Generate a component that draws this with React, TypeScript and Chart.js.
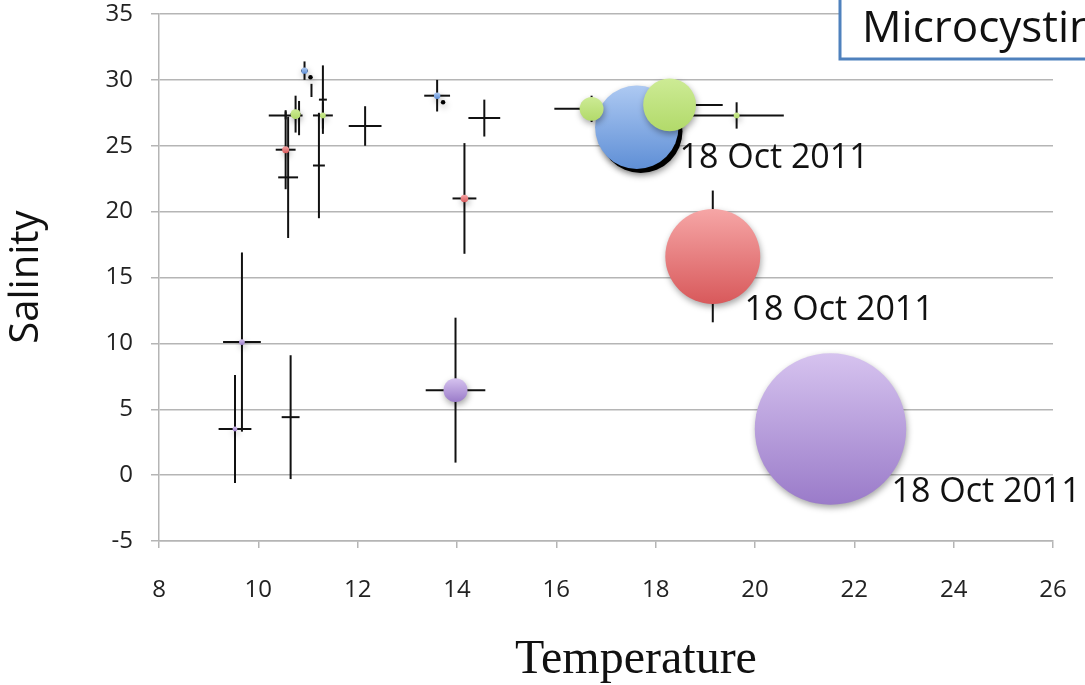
import { useEffect, useRef } from 'react';
import { Chart, registerables } from 'chart.js';

Chart.register(...registerables);

// ---- data ----
const temperature = [10.55, 10.55, 10.6, 10.75, 10.82, 10.93, 11.05, 11.07, 11.3, 11.3, 11.22, 12.15, 13.6, 13.72, 14.55, 14.15, 9.67, 9.53, 10.65, 13.97, 16.71, 17.7, 17.62, 18.28, 19.63, 19.15, 21.52];
const salinity = [27.3, 24.7, 22.6, 27.4, 27.1, 30.7, 30.2, 29.2, 28.5, 27.3, 23.5, 26.5, 28.8, 28.3, 27.1, 21.0, 10.1, 3.5, 4.4, 6.45, 27.8, 26.1, 26.4, 28.1, 27.3, 16.6, 3.5];
const temperatureError = [0.34, 0.2, 0.2, 0.1, 0, 0.07, 0, 0, 0.08, 0.2, 0.12, 0.33, 0.26, 0, 0.32, 0.24, 0.38, 0.33, 0.18, 0.6, 0.75, 0, 0, 1.07, 0.95, 0, 0];
const salinityError = [0.3, 3.0, 4.6, 1.4, 1.3, 0.7, 0, 0.5, 2.6, 1.0, 4.0, 1.5, 1.2, 0, 1.4, 4.2, 6.8, 4.1, 4.7, 5.5, 1.0, 0, 0, 0, 1.0, 5.0, 0];
const microcystin = [0, 0.012, 0, 0.024, 0, 0.01, 0.005, 0, 0, 0.008, 0, 0, 0.01, 0.005, 0, 0.014, 0.008, 0.006, 0, 0.14, 0.14, 1.7, 1.7, 0.68, 0.008, 2.2, 5.6];
const pointGroup = ['none', 'red', 'none', 'green', 'none', 'blue', 'black', 'none', 'none', 'green', 'none', 'none', 'blue', 'black', 'none', 'red', 'purple', 'purple', 'none', 'purple', 'green', 'black', 'blue', 'green', 'green', 'red', 'purple'];

const labelText = ['18 Oct 2011', '18 Oct 2011', '18 Oct 2011'];
const labelTemperature = [18.48, 19.79, 22.75];
const labelSalinity = [24.07, 12.53, -1.29];

const xMin = 8;
const xMax = 26;
const xStep = 2;
const yMin = -5;
const yMax = 35;
const yStep = 5;

const xTitle = 'Temperature';
const yTitle = 'Salinity';
const legendTitle = 'Microcystin';

// ---- styles ----
const SANS = '"Open Sans", "Noto Sans", sans-serif';
const SERIF = '"Liberation Serif", "DejaVu Serif", serif';

const groupStyle: Record<string, { top: string; bottom: string; order: number }> = {
  green: { top: '#cdeb95', bottom: '#b2da6a', order: 1 },
  blue: { top: '#adc9f2', bottom: '#5f8fd6', order: 2 },
  black: { top: '#000000', bottom: '#000000', order: 3 },
  red: { top: '#f6a6a6', bottom: '#d8595b', order: 4 },
  purple: { top: '#d6c3ef', bottom: '#9a7bc9', order: 4 },
  none: { top: 'rgba(0,0,0,0)', bottom: 'rgba(0,0,0,0)', order: 6 },
};
const groupNames = ['green', 'blue', 'black', 'red', 'purple', 'none'];

const radiusFor = (v: number) => (v > 0 ? 32 * Math.sqrt(v) : 0);

const errorBarPlugin = {
  id: 'errorBars',
  beforeDatasetsDraw(chart: any) {
    const { ctx, scales } = chart;
    const xs = scales.x;
    const ys = scales.y;
    ctx.save();
    ctx.strokeStyle = '#111111';
    ctx.lineWidth = 2;
    ctx.lineCap = 'butt';
    for (let i = 0; i < temperature.length; i++) {
      const px = xs.getPixelForValue(temperature[i]);
      const py = ys.getPixelForValue(salinity[i]);
      if (temperatureError[i] > 0) {
        ctx.beginPath();
        ctx.moveTo(xs.getPixelForValue(temperature[i] - temperatureError[i]), py);
        ctx.lineTo(xs.getPixelForValue(temperature[i] + temperatureError[i]), py);
        ctx.stroke();
      }
      if (salinityError[i] > 0) {
        ctx.beginPath();
        ctx.moveTo(px, ys.getPixelForValue(salinity[i] - salinityError[i]));
        ctx.lineTo(px, ys.getPixelForValue(salinity[i] + salinityError[i]));
        ctx.stroke();
      }
    }
    ctx.restore();
  },
};

const shadowPlugin = {
  id: 'bubbleShadow',
  beforeDatasetDraw(chart: any) {
    const ctx = chart.ctx;
    ctx.save();
    ctx.shadowColor = 'rgba(0,0,0,0.35)';
    ctx.shadowBlur = 6;
    ctx.shadowOffsetX = 1;
    ctx.shadowOffsetY = 3;
  },
  afterDatasetDraw(chart: any) {
    chart.ctx.restore();
  },
};

const textPlugin = {
  id: 'texts',
  afterDraw(chart: any) {
    const { ctx, scales } = chart;
    ctx.save();
    // bubble labels
    ctx.fillStyle = '#111111';
    ctx.font = `34px ${SANS}`;
    ctx.textAlign = 'left';
    ctx.textBaseline = 'middle';
    for (let i = 0; i < labelText.length; i++) {
      ctx.fillText(labelText[i], scales.x.getPixelForValue(labelTemperature[i]), scales.y.getPixelForValue(labelSalinity[i]));
    }
    // axis titles
    ctx.font = `48px ${SERIF}`;
    ctx.textAlign = 'center';
    ctx.textBaseline = 'alphabetic';
    ctx.fillText(xTitle, 636, 673);
    ctx.save();
    ctx.translate(27, 277);
    ctx.rotate(-Math.PI / 2);
    ctx.font = `40px ${SANS}`;
    ctx.textBaseline = 'middle';
    ctx.fillText(yTitle, 0, 0);
    ctx.restore();
    // legend box
    ctx.fillStyle = '#ffffff';
    ctx.fillRect(840, -5, 260, 64);
    ctx.strokeStyle = '#4f81bd';
    ctx.lineWidth = 3;
    ctx.strokeRect(840, -5, 260, 64);
    ctx.fillStyle = '#111111';
    ctx.font = `44px ${SANS}`;
    ctx.textAlign = 'left';
    ctx.textBaseline = 'alphabetic';
    ctx.fillText(legendTitle, 862, 42);
    ctx.restore();
  },
};

export default function App() {
  const canvasRef = useRef<HTMLCanvasElement | null>(null);

  useEffect(() => {
    if (!canvasRef.current) return;
    const datasets = groupNames.map((g) => {
      const idx = temperature.map((_, i) => i).filter((i) => pointGroup[i] === g);
      const style = groupStyle[g];
      return {
        label: g,
        order: style.order,
        clip: false as any,
        data: idx.map((i) => ({ x: temperature[i], y: salinity[i], r: radiusFor(microcystin[i]) })),
        borderWidth: 0,
        borderColor: 'rgba(0,0,0,0)',
        backgroundColor: (c: any) => {
          const chart = c.chart;
          const raw = c.raw;
          if (!chart.chartArea || !raw || !chart.scales.y) return style.bottom;
          const y = chart.scales.y.getPixelForValue(raw.y);
          const r = Math.max(raw.r, 1);
          const grad = chart.ctx.createLinearGradient(0, y - r, 0, y + r);
          grad.addColorStop(0, style.top);
          grad.addColorStop(1, style.bottom);
          return grad;
        },
      };
    });

    const chart = new Chart(canvasRef.current, {
      type: 'bubble',
      data: { datasets },
      plugins: [errorBarPlugin, shadowPlugin, textPlugin],
      options: {
        responsive: false,
        animation: false,
        layout: { autoPadding: false, padding: { top: 14, right: 32, left: 0, bottom: 0 } },
        plugins: { legend: { display: false }, tooltip: { enabled: false } },
        scales: {
          x: {
            type: 'linear',
            min: xMin,
            max: xMax,
            afterFit: (s: any) => {
              s.height = 144;
              s.paddingLeft = 0;
              s.paddingRight = 0;
              s.paddingTop = 0;
              s.paddingBottom = 0;
            },
            ticks: { stepSize: xStep, color: '#222222', font: { family: SANS, size: 24 }, padding: 28, maxRotation: 0 },
            grid: { drawOnChartArea: false, drawTicks: true, tickLength: 7, color: '#b5b5b5', lineWidth: 1.5 },
            border: { color: '#b5b5b5', width: 1.5 },
          },
          y: {
            type: 'linear',
            min: yMin,
            max: yMax,
            afterFit: (s: any) => {
              s.width = 159;
              s.paddingLeft = 0;
              s.paddingRight = 0;
              s.paddingTop = 0;
              s.paddingBottom = 0;
            },
            ticks: { stepSize: yStep, color: '#222222', font: { family: SANS, size: 24 }, padding: 18 },
            grid: { drawTicks: true, tickLength: 8, color: '#b5b5b5', lineWidth: 1.5 },
            border: { color: '#b5b5b5', width: 1.5 },
          },
        },
      },
    });
    return () => chart.destroy();
  }, []);

  return (
    <div style={{ position: 'fixed', left: 0, top: 0, width: 1085, height: 685, background: '#ffffff' }}>
      <canvas ref={canvasRef} width={1085} height={685} />
    </div>
  );
}
